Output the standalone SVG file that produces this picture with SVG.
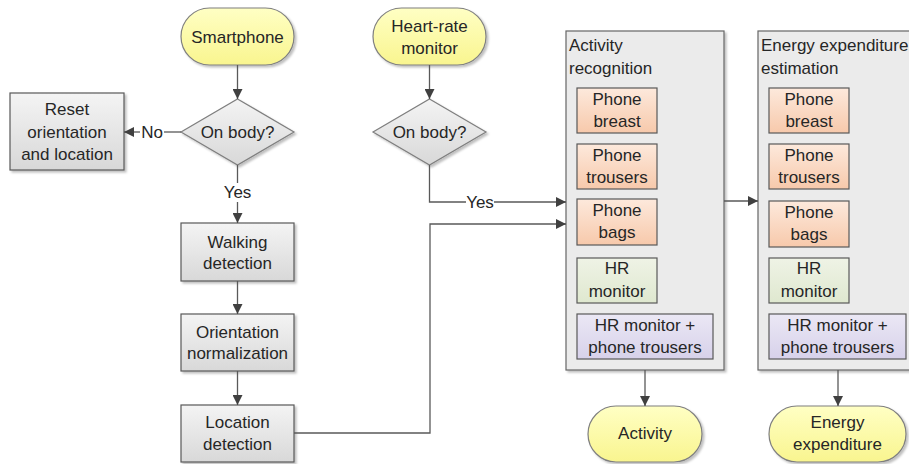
<svg xmlns="http://www.w3.org/2000/svg" width="909" height="464" viewBox="0 0 909 464">
<defs>
<linearGradient id="gY" x1="0" y1="0" x2="0" y2="1"><stop offset="0" stop-color="#ffffc4"/><stop offset="1" stop-color="#f9f58f"/></linearGradient>
<linearGradient id="gG" x1="0" y1="0" x2="0" y2="1"><stop offset="0" stop-color="#f4f4f4"/><stop offset="1" stop-color="#d8d8d8"/></linearGradient>
<linearGradient id="gO" x1="0" y1="0" x2="0" y2="1"><stop offset="0" stop-color="#fde9dc"/><stop offset="1" stop-color="#f7c9ab"/></linearGradient>
<linearGradient id="gL" x1="0" y1="0" x2="0" y2="1"><stop offset="0" stop-color="#eff3e6"/><stop offset="1" stop-color="#dfe8cf"/></linearGradient>
<linearGradient id="gP" x1="0" y1="0" x2="0" y2="1"><stop offset="0" stop-color="#ebe8f5"/><stop offset="1" stop-color="#d7d1ea"/></linearGradient>
<filter id="sh" x="-10%" y="-10%" width="130%" height="130%"><feDropShadow dx="2" dy="2" stdDeviation="1.2" flood-color="#000" flood-opacity="0.25"/></filter>
<marker id="ar" viewBox="0 0 10 10" refX="10" refY="5" markerWidth="10" markerHeight="10" markerUnits="userSpaceOnUse" orient="auto"><path d="M0,0 L10,5 L0,10 z" fill="#404040"/></marker>
</defs>
<style>
text{font-family:"Liberation Sans",Arial,sans-serif;font-size:17px;fill:#262626}
.c{text-anchor:middle}
.term{fill:url(#gY);stroke:#7f7f7f;stroke-width:1.2;filter:url(#sh)}
.proc{fill:url(#gG);stroke:#595959;stroke-width:1.2;filter:url(#sh)}
.dia{fill:url(#gG);stroke:#7f7f7f;stroke-width:1.2;filter:url(#sh)}
.cont{fill:#ebebeb;stroke:#666;stroke-width:1.2;filter:url(#sh)}
.or{fill:url(#gO);stroke:#595959;stroke-width:1.2}
.gr{fill:url(#gL);stroke:#595959;stroke-width:1.2}
.pu{fill:url(#gP);stroke:#595959;stroke-width:1.2}
.ln{fill:none;stroke:#595959;stroke-width:1.3}
.la{fill:none;stroke:#595959;stroke-width:1.3;marker-end:url(#ar)}
</style>

<g id="smartphone"><rect class="term" x="181" y="8" width="113" height="57" rx="28.5"/><text class="c" x="237.5" y="43">Smartphone</text></g>
<g id="onbody1"><polygon class="dia" points="237.5,99 294,132 237.5,165 181,132"/><text class="c" x="237.5" y="138">On body?</text></g>
<g id="reset"><rect class="proc" x="10" y="93" width="114" height="77"/><text class="c" x="67" y="115">Reset</text><text class="c" x="67" y="138">orientation</text><text class="c" x="67" y="160">and location</text></g>
<g id="walking"><rect class="proc" x="181" y="223" width="113" height="58"/><text class="c" x="237.5" y="248">Walking</text><text class="c" x="237.5" y="269">detection</text></g>
<g id="orientation"><rect class="proc" x="181" y="314" width="113" height="57"/><text class="c" x="237.5" y="338">Orientation</text><text class="c" x="237.5" y="359">normalization</text></g>
<g id="location"><rect class="proc" x="181" y="405" width="113" height="57"/><text class="c" x="237.5" y="428">Location</text><text class="c" x="237.5" y="450">detection</text></g>
<g id="hrmonitor"><rect class="term" x="373" y="8" width="113" height="57" rx="28.5"/><text class="c" x="429.5" y="32">Heart-rate</text><text class="c" x="429.5" y="54">monitor</text></g>
<g id="onbody2"><polygon class="dia" points="429.5,99 486,132 429.5,165 373,132"/><text class="c" x="429.5" y="138">On body?</text></g>

<g id="activity-recognition"><rect class="cont" x="566" y="31" width="158" height="339"/><text x="569" y="51">Activity</text><text x="569" y="74">recognition</text>
<rect class="or" x="577" y="88" width="80" height="45"/><text class="c" x="617" y="105">Phone</text><text class="c" x="617" y="127">breast</text>
<rect class="or" x="577" y="144" width="80" height="45"/><text class="c" x="617" y="161">Phone</text><text class="c" x="617" y="183">trousers</text>
<rect class="or" x="577" y="199" width="80" height="46"/><text class="c" x="617" y="216">Phone</text><text class="c" x="617" y="238">bags</text>
<rect class="gr" x="577" y="258" width="80" height="45"/><text class="c" x="617" y="274">HR</text><text class="c" x="617" y="297">monitor</text>
<rect class="pu" x="577" y="314" width="136" height="45"/><text class="c" x="645" y="331">HR monitor +</text><text class="c" x="645" y="353">phone trousers</text></g>

<g id="energy-estimation"><rect class="cont" x="758" y="31" width="160" height="339"/><text x="761" y="51">Energy expenditure</text><text x="761" y="74">estimation</text>
<rect class="or" x="769" y="88" width="80" height="45"/><text class="c" x="809" y="105">Phone</text><text class="c" x="809" y="127">breast</text>
<rect class="or" x="769" y="144" width="80" height="45"/><text class="c" x="809" y="161">Phone</text><text class="c" x="809" y="183">trousers</text>
<rect class="or" x="769" y="201" width="80" height="46"/><text class="c" x="809" y="218">Phone</text><text class="c" x="809" y="240">bags</text>
<rect class="gr" x="769" y="258" width="80" height="45"/><text class="c" x="809" y="274">HR</text><text class="c" x="809" y="297">monitor</text>
<rect class="pu" x="769" y="314" width="137" height="45"/><text class="c" x="837.5" y="331">HR monitor +</text><text class="c" x="837.5" y="353">phone trousers</text></g>

<g id="activity"><rect class="term" x="588" y="406" width="114" height="56" rx="28"/><text class="c" x="645" y="439">Activity</text></g>
<g id="energy"><rect class="term" x="769" y="406" width="137" height="56" rx="28"/><text class="c" x="837.5" y="428">Energy</text><text class="c" x="837.5" y="450">expenditure</text></g>

<g id="connectors">
<line class="la" x1="237.5" y1="65" x2="237.5" y2="99"/>
<line class="ln" x1="181" y1="132" x2="164" y2="132"/>
<line class="la" x1="140" y1="132" x2="124" y2="132"/>
<text class="c" x="152" y="138">No</text>
<line class="ln" x1="237.5" y1="165" x2="237.5" y2="183"/>
<text class="c" x="237.5" y="198">Yes</text>
<line class="la" x1="237.5" y1="202" x2="237.5" y2="223"/>
<line class="la" x1="237.5" y1="281" x2="237.5" y2="314"/>
<line class="la" x1="237.5" y1="371" x2="237.5" y2="405"/>
<line class="la" x1="429.5" y1="65" x2="429.5" y2="99"/>
<polyline class="ln" points="429.5,165 429.5,202 466,202"/>
<text class="c" x="480" y="208">Yes</text>
<line class="la" x1="494" y1="202" x2="566" y2="202"/>
<polyline class="la" points="294,433 430,433 430,224 566,224"/>
<line class="la" x1="724" y1="201" x2="758" y2="201"/>
<line class="la" x1="645" y1="370" x2="645" y2="406"/>
<line class="la" x1="838" y1="370" x2="838" y2="406"/>
</g>
</svg>
